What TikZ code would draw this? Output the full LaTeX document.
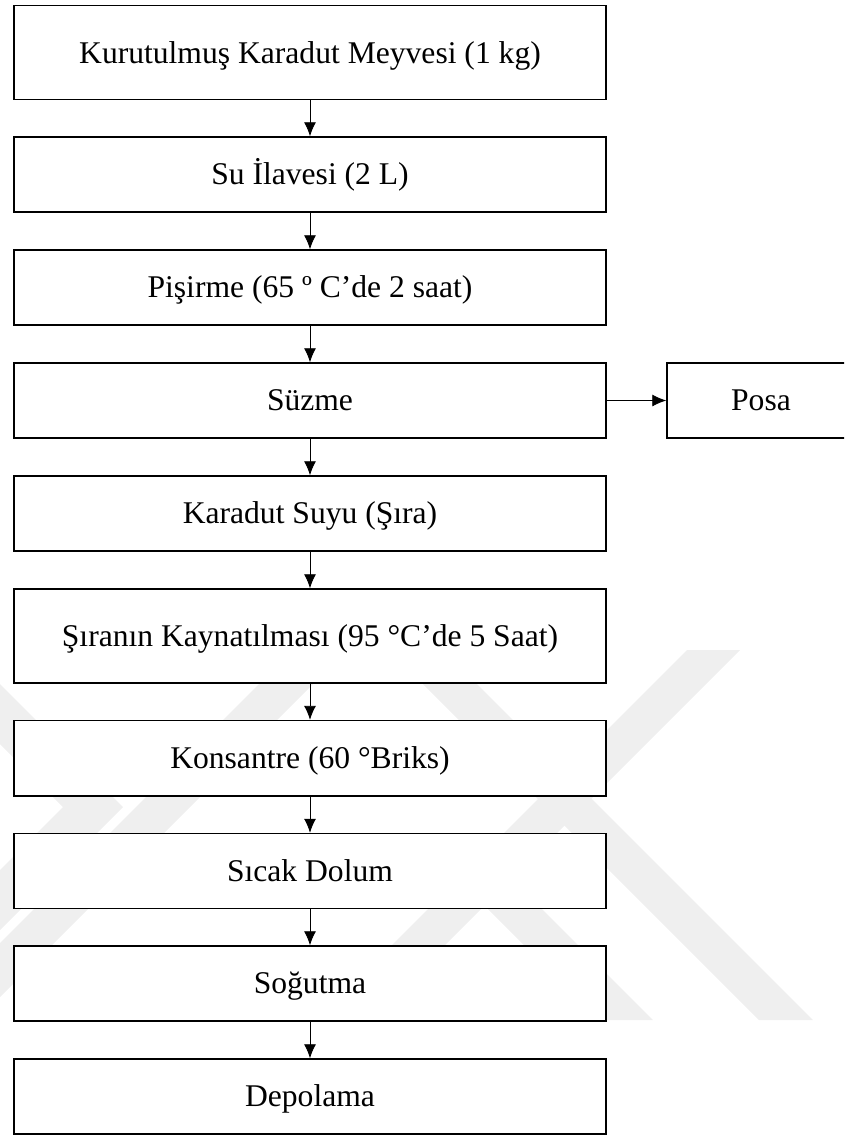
\documentclass[tikz,border=0pt]{standalone}
\usepackage{fontspec}
\setmainfont{Liberation Serif}
\usetikzlibrary{arrows.meta}
\definecolor{wm}{HTML}{EFEFEF}
\begin{document}
\begin{tikzpicture}[x=1pt,y=-1pt,
  box/.style={draw=black,line width=1.5pt,fill=white,rectangle,inner sep=0pt,
    minimum width=592pt,minimum height=75pt,
    font=\fontsize{31.6}{36}\selectfont,text height=20.9pt,text depth=0pt},
  tallbox/.style={minimum height=94pt},
  flow/.style={line width=0.9pt,draw=black,-{Latex[length=14pt,width=12pt]}},
  wmark/.style={fill=wm,draw=none}]
\useasboundingbox (0,0) rectangle (844,1135);
\clip (0,0) rectangle (844,1135);
% faint background watermark
\fill[wmark] (0,684) -- (123,807) -- (0,930) -- (0,870) -- (63,807) -- (0,744) -- cycle;
\fill[wmark] (293,650) -- (347,650) -- (-23,1020) -- (-77,1020) -- cycle;
\fill[wmark] (687,650) -- (740,650) -- (370,1020) -- (317,1020) -- cycle;
\fill[wmark] (389,650) -- (443,650) -- (813,1020) -- (759,1020) -- cycle;
\fill[wmark] (412,833) -- (466,833) -- (653,1020) -- (599,1020) -- cycle;
% process boxes
\node[box,tallbox] (n1) at (310,52.6) {Kurutulmuş Karadut Meyvesi (1 kg)};
\node[box] (n2) at (310,174.5) {Su İlavesi (2 L)};
\node[box] (n3) at (310,287.5) {Pişirme (65 º C’de 2 saat)};
\node[box] (n4) at (310,400.5) {Süzme};
\node[box,minimum width=188pt] (posa) at (761,400.5) {Posa};
\node[box] (n5) at (310,513.5) {Karadut Suyu (Şıra)};
\node[box,tallbox] (n6) at (310,636) {Şıranın Kaynatılması (95 °C’de 5 Saat)};
\node[box,minimum height=75.5pt] (n7) at (310,758.3) {Konsantre (60 °Briks)};
\node[box] (n8) at (310,871) {Sıcak Dolum};
\node[box] (n9) at (310,983.5) {Soğutma};
\node[box] (n10) at (310,1096.5) {Depolama};
% connectors
\draw[flow] (n1) -- (n2);
\draw[flow] (n2) -- (n3);
\draw[flow] (n3) -- (n4);
\draw[flow] (n4) -- (posa);
\draw[flow] (n4) -- (n5);
\draw[flow] (n5) -- (n6);
\draw[flow] (n6) -- (n7);
\draw[flow] (n7) -- (n8);
\draw[flow] (n8) -- (n9);
\draw[flow] (n9) -- (n10);
\end{tikzpicture}
\end{document}
